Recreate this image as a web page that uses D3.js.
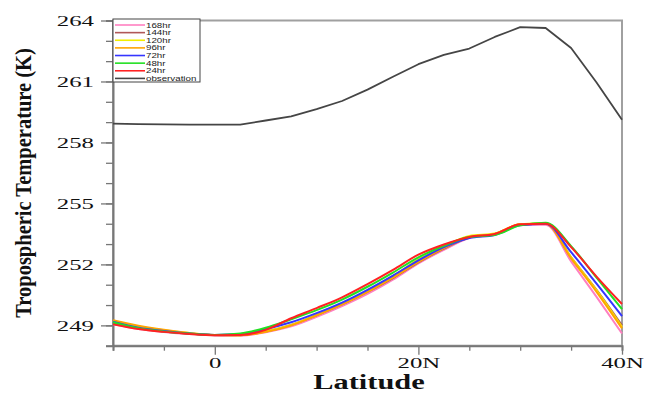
<!DOCTYPE html>
<html><head><meta charset="utf-8">
<script src="https://cdn.jsdelivr.net/npm/d3@7"></script>
<style>body{margin:0;background:#fff}svg{display:block}</style>
</head><body><svg id="c" width="645" height="404"></svg>
<script>
const latitudes = [-10,-7.5,-5,-2.5,0,2.5,5,7.5,10,12.5,15,17.5,20,22.5,25,27.5,30,32.5,35,37.5,40];
const hr168 = [249.05,248.82,248.67,248.57,248.52,248.50,248.66,248.95,249.42,249.95,250.55,251.25,252.05,252.72,253.30,253.48,253.95,253.95,252.15,250.40,248.60];
const hr144 = [249.10,248.86,248.70,248.59,248.52,248.52,248.70,249.02,249.50,250.03,250.65,251.33,252.10,252.78,253.32,253.50,253.95,254.00,252.35,250.75,249.00];
const hr120 = [249.22,248.95,248.76,248.62,248.53,248.52,248.70,249.02,249.52,250.06,250.70,251.42,252.25,252.88,253.40,253.52,253.98,254.02,252.35,250.72,248.92];
const hr96  = [249.25,248.98,248.78,248.63,248.53,248.52,248.68,249.00,249.50,250.03,250.65,251.35,252.12,252.80,253.35,253.50,253.97,254.00,252.30,250.65,248.85];
const hr72  = [249.18,248.88,248.72,248.60,248.53,248.57,248.82,249.15,249.60,250.12,250.75,251.45,252.20,252.85,253.30,253.45,253.92,254.00,252.60,251.05,249.45];
const hr48  = [249.15,248.86,248.70,248.60,248.53,248.60,248.88,249.30,249.75,250.27,250.90,251.60,252.35,252.92,253.35,253.45,253.92,254.05,252.90,251.35,249.80];
const hr24  = [249.05,248.82,248.68,248.58,248.52,248.53,248.78,249.35,249.85,250.38,251.03,251.73,252.48,252.98,253.35,253.50,253.97,254.00,252.85,251.40,250.05];
const observation = [258.93,258.90,258.89,258.88,258.88,258.88,259.08,259.28,259.64,260.04,260.60,261.23,261.85,262.31,262.62,263.19,263.67,263.63,262.65,260.95,259.12];

const seriesNames = ["168hr","144hr","120hr","96hr","72hr","48hr","24hr","observation"];
const seriesValues = [hr168,hr144,hr120,hr96,hr72,hr48,hr24,observation];
const seriesColors = ["#ff7fc0","#b05858","#f2ee00","#ffa500","#3535ff","#22e022","#ff2222","#454545"];

const yMajorTicks = [249,252,255,258,261,264];
const yMinorTicks = d3.range(248,265,1);
const xMajorTicks = [0,20,40];
const xMinorTicks = [-10,-5,5,10,15,25,30,35];
const xTickLabels = {"0":"0","20":"20N","40":"40N"};

const svg = d3.select("#c");
const x = d3.scaleLinear().domain([-10,40]).range([113,622]);
const y = d3.scaleLinear().domain([248,264]).range([345.7,20.5]);

svg.append("rect").attr("x",x(-10)).attr("y",y(264)).attr("width",x(40)-x(-10)).attr("height",y(248)-y(264))
  .attr("fill","none").attr("stroke","#a0a0a0").attr("stroke-width",2);

const serif = "'Liberation Serif','Times New Roman',serif";

svg.append("g").attr("transform",`translate(${x(-10)},0)`)
  .call(d3.axisLeft(y).tickValues(yMinorTicks).tickSize(7).tickFormat(""))
  .call(g=>{g.select(".domain").attr("stroke","#777").attr("stroke-width",2);g.selectAll("line").attr("stroke","#777").attr("stroke-width",1.3);});
const ya = svg.append("g").attr("transform",`translate(${x(-10)},0)`)
  .call(d3.axisLeft(y).tickValues(yMajorTicks).tickSize(12).tickFormat(d=>d))
  .call(g=>{g.select(".domain").remove();g.selectAll("line").attr("stroke","#777").attr("stroke-width",1.3);});
ya.selectAll("text").attr("x",0).attr("dy","0.34em")
  .attr("transform","translate(-19,0) scale(1.6,1)")
  .attr("font-family",serif).attr("font-size",15.5).attr("fill","#111");

svg.append("g").attr("transform",`translate(0,${y(248)})`)
  .call(d3.axisBottom(x).tickValues(xMinorTicks).tickSize(5).tickFormat(""))
  .call(g=>{g.select(".domain").attr("stroke","#777").attr("stroke-width",2);g.selectAll("line").attr("stroke","#777").attr("stroke-width",1.3);});
const xa = svg.append("g").attr("transform",`translate(0,${y(248)})`)
  .call(d3.axisBottom(x).tickValues(xMajorTicks).tickSize(9).tickFormat(d=>xTickLabels[d]))
  .call(g=>{g.select(".domain").remove();g.selectAll("line").attr("stroke","#777").attr("stroke-width",1.3);});
xa.selectAll("text").attr("y",0).attr("dy",0)
  .attr("transform","translate(0,22) scale(1.6,1)")
  .attr("font-family",serif).attr("font-size",15.5).attr("fill","#111");

svg.append("text").attr("transform","translate(369,389) scale(1.52,1)")
  .attr("text-anchor","middle").attr("font-family",serif).attr("font-weight","bold")
  .attr("font-size",20).attr("fill","#111").text("Latitude");
svg.append("text").attr("transform","translate(31,183) rotate(-90) scale(1,1.12)")
  .attr("text-anchor","middle").attr("font-family",serif).attr("font-weight","bold")
  .attr("font-size",20.5).attr("fill","#111").text("Tropospheric Temperature (K)");

const line = d3.line().x((d,i)=>x(latitudes[i])).y(d=>y(d)).curve(d3.curveMonotoneX);
const lineObs = d3.line().x((d,i)=>x(latitudes[i])).y(d=>y(d)).curve(d3.curveLinear);
seriesValues.forEach((vals,k)=>{
  svg.append("path").datum(vals)
    .attr("d", k===7 ? lineObs(vals) : line(vals))
    .attr("fill","none").attr("stroke",seriesColors[k])
    .attr("stroke-width", k===7?1.8:2).attr("stroke-linejoin","round");
});

const lg = svg.append("g");
lg.append("rect").attr("x",113).attr("y",19).attr("width",87).attr("height",63)
  .attr("fill","#fff").attr("stroke","#444").attr("stroke-width",1);
seriesNames.forEach((n,k)=>{
  const yy = 25 + k*7.63;
  lg.append("line").attr("x1",115).attr("x2",145).attr("y1",yy).attr("y2",yy)
    .attr("stroke",seriesColors[k]).attr("stroke-width",1.6);
  lg.append("text").attr("transform",`translate(146,${yy+2.6}) scale(1.22,1)`)
    .attr("font-family","'Liberation Sans',Arial,sans-serif").attr("font-size",8)
    .attr("fill","#222").text(n);
});
</script></body></html>
